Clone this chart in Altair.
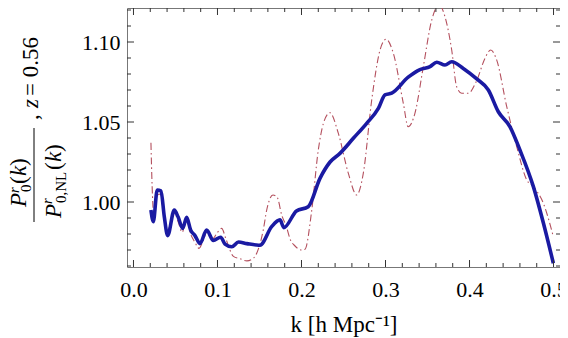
import altair as alt
import pandas as pd

# ---- data ----
blue_k = [0.0208, 0.0236, 0.0283, 0.0327, 0.0367, 0.0407, 0.0486, 0.0533, 0.0586, 0.0633,
          0.068, 0.0732, 0.0792, 0.0871, 0.095, 0.1038, 0.109, 0.117, 0.125, 0.135,
          0.149, 0.1506, 0.1645, 0.1744, 0.179, 0.194, 0.208, 0.222, 0.234, 0.2458,
          0.2617, 0.2776, 0.2915, 0.2994, 0.3074, 0.327, 0.341, 0.353, 0.361, 0.3708,
          0.3788, 0.3926, 0.4086, 0.4224, 0.4343, 0.4482, 0.46, 0.476, 0.488, 0.4998]
blue_v = [0.995, 0.9877, 1.0075, 1.007, 0.9908, 0.979, 0.995, 0.9904, 0.9835, 0.9904,
          0.9825, 0.979, 0.974, 0.9825, 0.976, 0.978, 0.9737, 0.972, 0.975, 0.974,
          0.973, 0.973, 0.9846, 0.9888, 0.984, 0.9944, 0.997, 1.0148, 1.025, 1.0304,
          1.0398, 1.0492, 1.0585, 1.0669, 1.068, 1.078, 1.0828, 1.0846, 1.0873, 1.0856,
          1.0877, 1.0835, 1.0769, 1.07, 1.0564, 1.047, 1.0325, 1.0096, 0.9867, 0.9617]

red_k = [0.0208, 0.0222, 0.024, 0.028, 0.032, 0.036, 0.040, 0.045, 0.049, 0.053,
         0.058, 0.063, 0.068, 0.073, 0.078, 0.083, 0.088, 0.094, 0.100, 0.105,
         0.110, 0.119, 0.127, 0.135, 0.143, 0.1467, 0.1545, 0.1586, 0.166, 0.171,
         0.1764, 0.1824, 0.1863, 0.1923, 0.2002, 0.2042, 0.212, 0.220, 0.226, 0.2339,
         0.2438, 0.2557, 0.2657, 0.2736, 0.2836, 0.2935, 0.3006, 0.3093, 0.3212, 0.327,
         0.335, 0.345, 0.355, 0.364, 0.3708, 0.3788, 0.3847, 0.3907, 0.3986, 0.4086,
         0.4184, 0.4252, 0.4323, 0.4443, 0.4562, 0.4681, 0.476, 0.4879, 0.4998]
red_v = [1.037, 1.010, 0.993, 1.004, 1.005, 0.992, 0.981, 0.988, 0.993, 0.988,
         0.981, 0.989, 0.980, 0.975, 0.971, 0.976, 0.982, 0.977, 0.981, 0.9835,
         0.977, 0.966, 0.9645, 0.9632, 0.965, 0.968, 0.9825, 0.995, 1.0044, 1.003,
         0.992, 0.984, 0.977, 0.9725, 0.970, 0.9705, 0.994, 1.0325, 1.049, 1.0558,
         1.043, 1.018, 1.0044, 1.018, 1.0638, 1.095, 1.1017, 1.093, 1.0617, 1.047,
         1.0554, 1.0846, 1.1137, 1.1231, 1.1158, 1.095, 1.072, 1.068, 1.068, 1.076,
         1.0898, 1.095, 1.0888, 1.0596, 1.0346, 1.0138, 1.0096, 0.9992, 0.9783]

x_major = [0.0, 0.1, 0.2, 0.3, 0.4, 0.5]
x_minor = [0.02, 0.04, 0.06, 0.08, 0.12, 0.14, 0.16, 0.18, 0.22, 0.24, 0.26, 0.28,
           0.32, 0.34, 0.36, 0.38, 0.42, 0.44, 0.46, 0.48]
y_major = [1.00, 1.05, 1.10]
y_minor = [0.96, 0.97, 0.98, 0.99, 1.01, 1.02, 1.03, 1.04, 1.06, 1.07, 1.08, 1.09, 1.11, 1.12]

W, H = 433, 259
XD = [-0.0077, 0.5077]
YD = [0.959375, 1.12125]
FONT = "Liberation Serif"
L0, T0 = 127, 8  # page position of plot origin

blue = pd.DataFrame({"k": blue_k, "v": blue_v})
red = pd.DataFrame({"k": red_k, "v": red_v})

xs = alt.Scale(domain=XD, nice=False, zero=False)
ys = alt.Scale(domain=YD, nice=False, zero=False)

xaxis = alt.Axis(values=x_major, format=".1f", ticks=False, domain=False, grid=False,
                 labelFont=FONT, labelFontSize=22, labelColor="black", labelPadding=12,
                 title="k [h Mpc\u207b\u00b9]", titleFont=FONT, titleFontSize=23,
                 titleFontWeight="normal", titleColor="black", titleBaseline="alphabetic",
                 titleY=64)
yaxis = alt.Axis(values=y_major, format=".2f", ticks=False, domain=False, grid=False,
                 labelFont=FONT, labelFontSize=22, labelColor="black", labelPadding=7,
                 title=None)

red_line = alt.Chart(red).mark_line(
    color="#b4505e", strokeWidth=1.1, strokeDash=[7, 3, 1.5, 3], interpolate="monotone", clip=True
).encode(x=alt.X("k:Q", scale=xs, axis=xaxis), y=alt.Y("v:Q", scale=ys, axis=yaxis))

blue_line = alt.Chart(blue).mark_line(
    color="#1a1aa2", strokeWidth=3.6, interpolate="monotone", clip=True
).encode(x=alt.X("k:Q", scale=xs), y=alt.Y("v:Q", scale=ys))

def xticks(vals, length):
    d = pd.DataFrame({"k": vals})
    bot = alt.Chart(d).mark_rule(color="#333", strokeWidth=1).encode(
        x=alt.X("k:Q", scale=xs), y=alt.value(H), y2=alt.value(H - length))
    top = alt.Chart(d).mark_rule(color="#333", strokeWidth=1).encode(
        x=alt.X("k:Q", scale=xs), y=alt.value(0), y2=alt.value(length))
    return [bot, top]

def yticks(vals, length):
    d = pd.DataFrame({"v": vals})
    left = alt.Chart(d).mark_rule(color="#333", strokeWidth=1).encode(
        y=alt.Y("v:Q", scale=ys), x=alt.value(0), x2=alt.value(length))
    right = alt.Chart(d).mark_rule(color="#333", strokeWidth=1).encode(
        y=alt.Y("v:Q", scale=ys), x=alt.value(W), x2=alt.value(W - length))
    return [left, right]

one = pd.DataFrame({"a": [0]})

def txt(s, px, py, size=23, italic=False):
    return alt.Chart(one).mark_text(
        text=s, angle=270, align="left", baseline="alphabetic", font=FONT,
        fontSize=size, fontStyle="italic" if italic else "normal", color="black"
    ).encode(x=alt.value(px - L0), y=alt.value(py - T0))

title_parts = [
    # numerator
    txt("P", 26, 207, italic=True),
    txt("r", 19, 193, size=15, italic=True),
    txt("0", 31, 192, size=15),
    txt("(", 26, 184),
    txt("k", 26, 176, italic=True),
    txt(")", 26, 166),
    # denominator
    txt("P", 61, 218, italic=True),
    txt("r", 52, 204, size=15, italic=True),
    txt("0,NL", 66, 203, size=15),
    txt("(", 61, 170),
    txt("k", 61, 162, italic=True),
    txt(")", 61, 152),
    # ", z = 0.56"
    txt(",", 38, 120),
    txt("z", 38, 108, italic=True),
    txt("= 0.56", 38, 96),
]
bar = alt.Chart(one).mark_rule(color="black", strokeWidth=1).encode(
    x=alt.value(34 - L0), y=alt.value(128 - T0), y2=alt.value(222 - T0))

layers = [red_line, blue_line] + xticks(x_major, 7) + xticks(x_minor, 4) \
    + yticks(y_major, 7) + yticks(y_minor, 4) + title_parts + [bar]

chart = alt.layer(*layers).properties(
    width=W, height=H, autosize=alt.AutoSizeParams(type="none"),
    padding={"left": L0 - 8, "top": T0 - 8, "right": 0, "bottom": 70},
    background="white",
).configure_view(stroke="#777", strokeWidth=1)

chart.save("out.html", embed_options={"renderer": "svg", "actions": False})
